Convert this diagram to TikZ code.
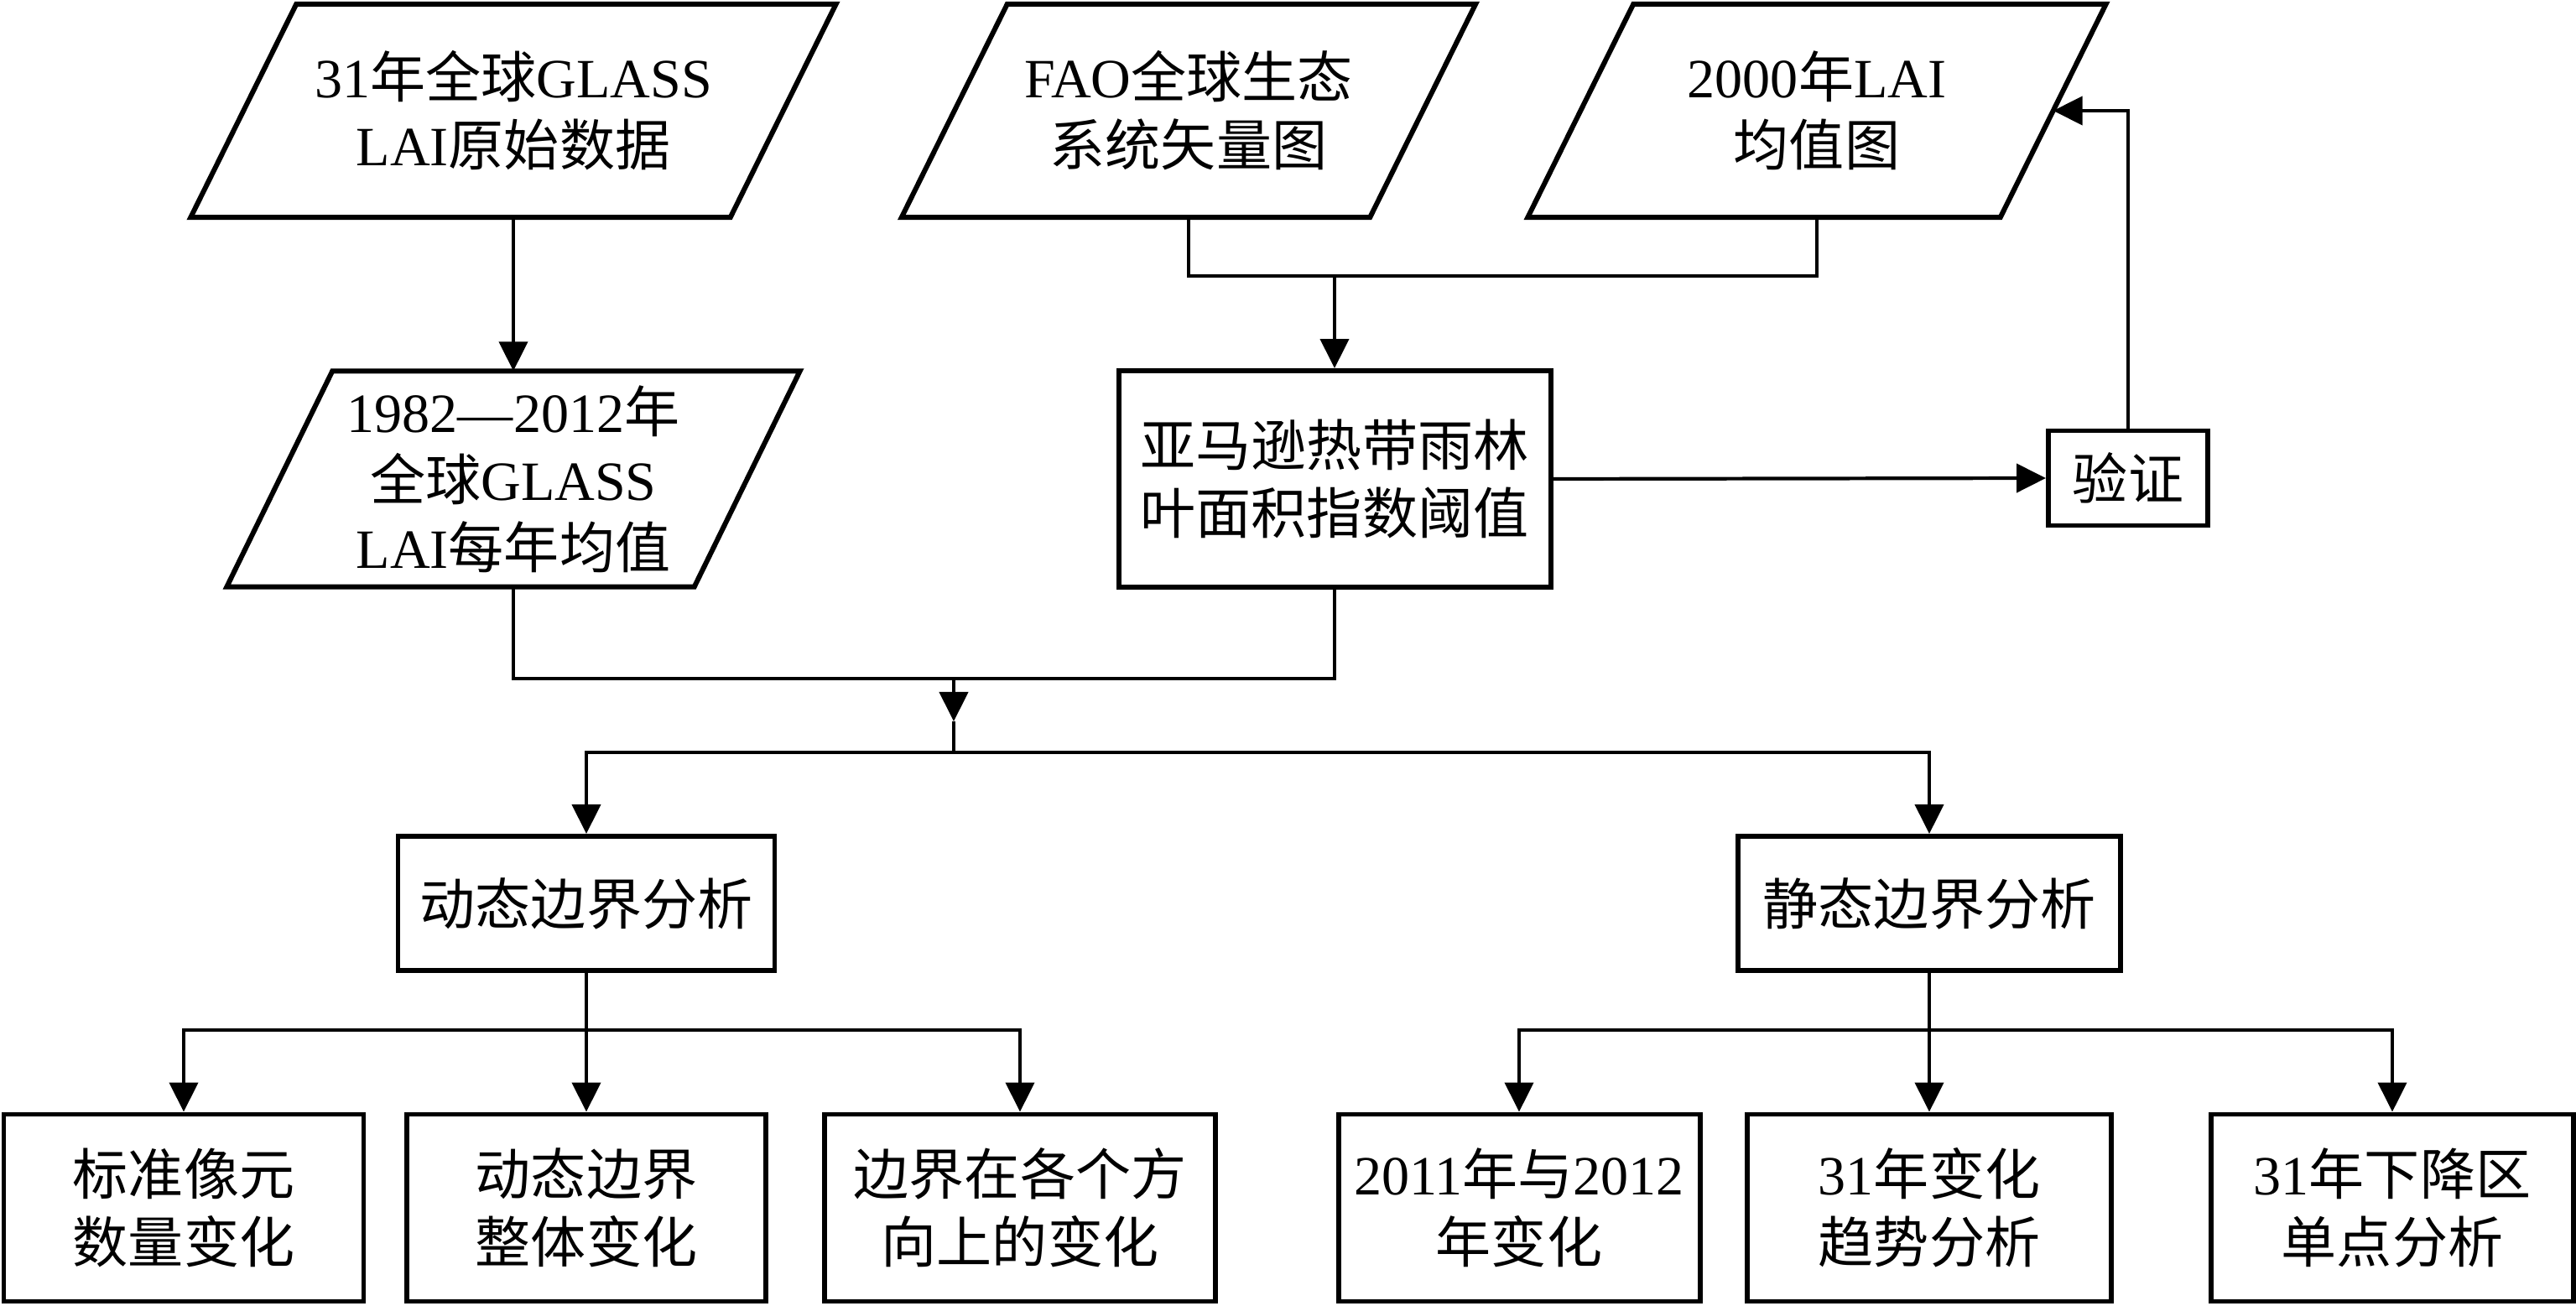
\documentclass[tikz,border=0pt]{standalone}
\usepackage{fontspec}
\setmainfont{Liberation Serif}
\newfontfamily\cjk{Noto Sans CJK SC}
\newcommand{\zh}[1]{{\cjk #1}}
\usepackage{tikz}
\usetikzlibrary{arrows.meta,positioning}

\tikzset{
  boxline/.style={line width=1.7pt},
  conn/.style={line width=1.2pt},
  arrow/.style={conn, -{Triangle[length=0.35cm,width=0.34cm]}},
  txt/.style={inner sep=0pt, align=center, font=\fontsize{18.8}{23}\selectfont},
  procbox/.style={txt, draw, boxline, minimum width=#1},
  databox/.style={txt, minimum width=#1, minimum height=2.53cm}
}

\begin{document}
\begin{tikzpicture}
    \useasboundingbox (0,0) rectangle (30.71,-15.57);

    % 1. Input data (parallelograms, outlines drawn below)
    \node[databox=6.42cm] (raw) at (6.12,-1.32) {31\zh{年全球}GLASS\\LAI\zh{原始数据}};
    \node[databox=5.57cm] (fao) at (14.17,-1.32) {FAO\zh{全球生态}\\\zh{系统矢量图}};
    \node[databox=5.62cm] (mean2000) at (21.66,-1.32) {2000\zh{年}LAI\\\zh{均值图}};
    \node[databox=5.56cm, minimum height=2.56cm] (annual) at (6.12,-5.71)
        {1982—2012\zh{年}\\\zh{全球}GLASS\\LAI\zh{每年均值}};
    \foreach \n in {raw,fao,mean2000,annual}
        \draw[boxline] ([xshift=-0.63cm]\n.south west) -- ([xshift=0.63cm]\n.north west)
            -- ([xshift=0.63cm]\n.north east) -- ([xshift=-0.63cm]\n.south east) -- cycle;

    % 2. Threshold and validation
    \node[procbox=5.15cm, minimum height=2.58cm] (amazon) at (15.91,-5.71)
        {\zh{亚马逊热带雨林}\\\zh{叶面积指数阈值}};
    \node[procbox=1.90cm, minimum height=1.13cm] (verify) at (25.37,-5.70) {\zh{验证}};

    % 3. Boundary analysis
    \node[procbox=4.49cm, minimum height=1.60cm] (dyn) at (6.99,-10.77) {\zh{动态边界分析}};
    \node[procbox=4.56cm, minimum height=1.60cm] (sta) at (23.00,-10.77) {\zh{静态边界分析}};

    % 4. Result boxes
    \node[procbox=4.29cm, minimum height=2.23cm] (c1) at (2.19,-14.40) {\zh{标准像元}\\\zh{数量变化}};
    \node[procbox=4.28cm, minimum height=2.23cm] (c2) at (6.99,-14.40) {\zh{动态边界}\\\zh{整体变化}};
    \node[procbox=4.66cm, minimum height=2.23cm] (c3) at (12.16,-14.40) {\zh{边界在各个方}\\\zh{向上的变化}};
    \node[procbox=4.31cm, minimum height=2.23cm] (s1) at (18.11,-14.40) {2011\zh{年与}2012\\\zh{年变化}};
    \node[procbox=4.34cm, minimum height=2.23cm] (s2) at (23.00,-14.40) {31\zh{年变化}\\\zh{趋势分析}};
    \node[procbox=4.32cm, minimum height=2.23cm] (s3) at (28.52,-14.40) {31\zh{年下降区}\\\zh{单点分析}};

    % 5. Connectors
    \coordinate (topjoin) at (14.17,-3.29);
    \coordinate (midjoin) at (11.37,-8.09);
    \coordinate (midtip) at (11.37,-8.60);
    \coordinate (split) at (11.37,-8.97);
    \coordinate (dynsplit) at (6.99,-12.28);
    \coordinate (stasplit) at (23.00,-12.28);

    \draw[arrow] (raw.south) -- (annual.north);
    \draw[conn] (fao.south) -- (topjoin) -| (mean2000.south);
    \draw[arrow] (topjoin -| amazon.north) -- (amazon.north);
    \draw[arrow] (amazon.east) -- (verify.west);
    \draw[arrow] (verify.north) |- (mean2000.east);

    \draw[conn] (annual.south) |- (midjoin) -| (amazon.south);
    \draw[arrow] (midjoin) -- (midtip);
    \draw[conn] (midtip) -- (split);
    \draw[arrow] (split) -| (dyn.north);
    \draw[arrow] (split) -| (sta.north);

    \draw[conn] (dyn.south) -- (dynsplit);
    \foreach \c in {c1,c2,c3}
        \draw[arrow] (dynsplit) -| (\c.north);
    \draw[conn] (sta.south) -- (stasplit);
    \foreach \c in {s1,s2,s3}
        \draw[arrow] (stasplit) -| (\c.north);
\end{tikzpicture}
\end{document}
